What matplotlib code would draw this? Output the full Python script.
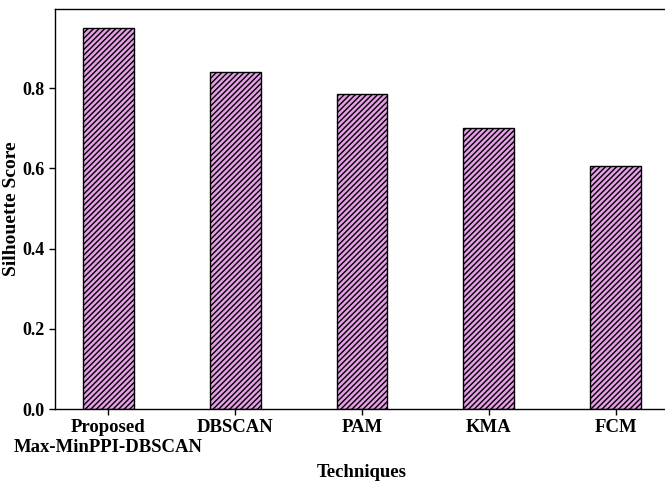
import matplotlib
matplotlib.use("Agg")
import matplotlib.pyplot as plt

techniques = ["Proposed\nMax-MinPPI-DBSCAN", "DBSCAN", "PAM", "KMA", "FCM"]
silhouette = [0.95, 0.84, 0.785, 0.70, 0.605]
yticks = [0.0, 0.2, 0.4, 0.6, 0.8]

plt.rcParams["font.family"] = ["Liberation Serif", "DejaVu Serif"]
plt.rcParams["font.weight"] = "bold"
plt.rcParams["hatch.linewidth"] = 1.0

fig = plt.figure(figsize=(6.65, 4.84), dpi=100)
# right spine sits just past the canvas edge
ax = fig.add_axes([55 / 665, 75 / 484, 614 / 665, 400 / 484])

x = range(len(techniques))
ax.bar(x, silhouette, width=0.4, color="#e49fe6", edgecolor="black",
       linewidth=1.0, hatch="//////")

ax.set_xticks(list(x))
ax.set_xticklabels(techniques, fontsize=13.5, fontweight="bold",
                   linespacing=1.25)
ax.set_yticks(yticks)
ax.set_yticklabels([f"{v:.1f}" for v in yticks], fontsize=13, fontweight="bold")
ax.set_ylim(0, 0.9975)
ax.set_xlim(-0.42, 4.42)

ax.set_xlabel("Techniques", fontsize=13.5, fontweight="bold")
ax.set_ylabel("Silhouette Score", fontsize=14, fontweight="bold")
ax.xaxis.set_label_coords(0.5, -0.137)
ax.yaxis.set_label_coords(-0.057, 0.5)

ax.tick_params(axis="both", length=4, width=1)
ax.tick_params(axis="x", pad=3)
for sp in ax.spines.values():
    sp.set_linewidth(1.0)

fig.savefig("out.png", dpi=100)
